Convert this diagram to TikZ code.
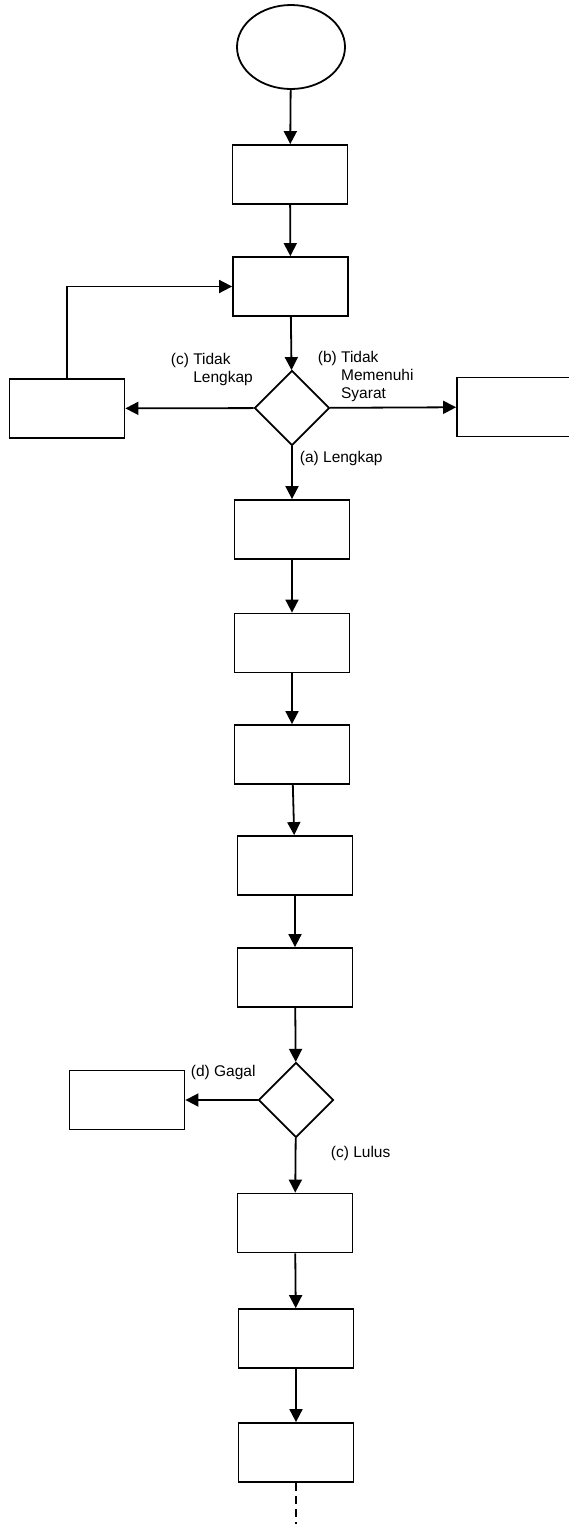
\documentclass[tikz,border=0pt]{standalone}
\usepackage{fontspec}
\setmainfont{Liberation Sans}
\usetikzlibrary{shapes.geometric,arrows.meta}
\begin{document}
\begin{tikzpicture}[x=1pt,y=-1pt,line width=1.8pt,
	kotak/.style={draw,minimum width=115pt,minimum height=59pt,inner sep=0pt},
	putusan/.style={draw,diamond,minimum width=75pt,minimum height=75pt,inner sep=0pt},
	ket/.style={anchor=north west,inner sep=0pt,align=left,font=\fontsize{15.5}{18}\selectfont},
	panah/.style={-{Triangle[length=13pt,width=13pt]}}]
				\useasboundingbox (0,0) rectangle (568,1524);
				\node[draw,ellipse,minimum width=108pt,minimum height=84pt] (mulai) at (291,47) {};
				\node[kotak] (k1) at (290,174.5) {};
				\node[kotak] (k2) at (290.5,286.5) {};
				\node[putusan] (cek1) at (292,408) {};
				\node[kotak] (kembali) at (67,408.5) {};
				\node[kotak] (tolak) at (514.5,407) {};
				\node[kotak] (k3) at (292,529.5) {};
				\node[kotak] (k4) at (292,643) {};
				\node[kotak] (k5) at (292,754.5) {};
				\node[kotak] (k6) at (295,865.5) {};
				\node[kotak] (k7) at (295,977.5) {};
				\node[putusan] (cek2) at (296,1100) {};
				\node[kotak] (gagal) at (127,1100) {};
				\node[kotak] (k8) at (295,1223) {};
				\node[kotak] (k9) at (296,1338.5) {};
				\node[kotak] (k10) at (296,1452.5) {};
				\coordinate (ujung) at (296,1524);
				\draw[panah] (mulai) -- (k1);
				\draw[panah] (k1) -- (k2);
				\draw[panah] (k2) -- (cek1);
				\draw[panah] (cek1) -- (kembali);
				\draw[panah] (cek1) -- (tolak);
				\draw[panah] (kembali.north) |- (k2.west);
				\draw[panah] (cek1) -- (k3);
				\draw[panah] (k3) -- (k4);
				\draw[panah] (k4) -- (k5);
				\draw[panah] (k5) -- (k6);
				\draw[panah] (k6) -- (k7);
				\draw[panah] (k7) -- (cek2);
				\draw[panah] (cek2) -- (gagal);
				\draw[panah] (cek2) -- (k8);
				\draw[panah] (k8) -- (k9);
				\draw[panah] (k9) -- (k10);
				\draw[dash pattern=on 8pt off 5pt] (k10) -- (ujung);
				\node[ket] (lc) at (170,352) {(c) Tidak\\\hphantom{(c) }Lengkap};
				\node[ket] (lb) at (317,350) {(b) Tidak\\\hphantom{(b) }Memenuhi\\\hphantom{(b) }Syarat};
				\node[ket] (la) at (299,450) {(a) Lengkap};
				\node[ket] (ld) at (190,1064) {(d) Gagal};
				\node[ket] (ll) at (330,1145) {(c) Lulus};
	\end{tikzpicture}
\end{document}
